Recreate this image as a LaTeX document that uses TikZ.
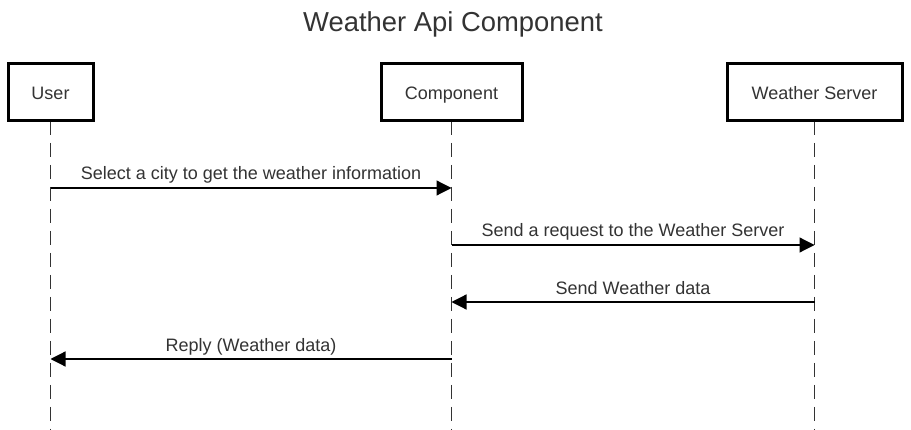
\documentclass[tikz,border=0pt]{standalone}
\usepackage{fontspec}
\setmainfont{Liberation Sans}
\usetikzlibrary{arrows.meta}
\definecolor{txt}{HTML}{333333}
\definecolor{lifel}{HTML}{333333}
\tikzset{
  actor/.style={draw=black, line width=3pt, fill=white, minimum height=57pt, inner sep=0pt,
    text height=15pt, text depth=0pt, text=txt, font=\fontsize{18}{22}\selectfont},
  lifeline/.style={draw=lifel, line width=1.9pt, dash pattern=on 14pt off 8pt},
  msg/.style={draw=txt, line width=1.2pt, -{Triangle[length=15pt,width=15pt]}, black},
  msglabel/.style={anchor=base, text=txt, font=\fontsize{18}{22}\selectfont, inner sep=0pt},
}
\begin{document}
\begin{tikzpicture}[x=1pt,y=-1pt]
\useasboundingbox (0,0) rectangle (911,430);
\fill[white] (0,0) rectangle (911,430);
\node[anchor=base, text=txt, font=\fontsize{27.4}{32}\selectfont, inner sep=0pt] (title) at (453,31.5) {Weather Api Component};
% lifelines (drawn first)
\coordinate (ubot) at (50.5,430);
\coordinate (cbot) at (451.5,430);
\coordinate (wbot) at (814.5,430);
\coordinate (utop) at (50.5,121);
\coordinate (ctop) at (451.5,121);
\coordinate (wtop) at (814.5,121);
\draw[lifeline] (utop) -- (ubot);
\draw[lifeline] (ctop) -- (cbot);
\draw[lifeline] (wtop) -- (wbot);
% actors
\node[actor, minimum width=85pt] (user) at (50.5,92.5) {User};
\node[actor, minimum width=141pt] (comp) at (451.5,92.5) {Component};
\node[actor, minimum width=175pt] (wserv) at (814.5,92.5) {Weather Server};
% message anchor points on lifelines
\coordinate (u1) at (50.5,188);
\coordinate (c1) at (451.5,188);
\coordinate (c2) at (451.5,245);
\coordinate (w2) at (814.5,245);
\coordinate (w3) at (814.5,302);
\coordinate (c3) at (451.5,302);
\coordinate (c4) at (451.5,359);
\coordinate (u4) at (50.5,359);
\draw[msg] (u1) -- (c1);
\draw[msg] (c2) -- (w2);
\draw[msg] (w3) -- (c3);
\draw[msg] (c4) -- (u4);
\node[msglabel] (l1) at (251,180) {Select a city to get the weather information};
\node[msglabel] (l2) at (633,237) {Send a request to the Weather Server};
\node[msglabel] (l3) at (633,295) {Send Weather data};
\node[msglabel] (l4) at (251,352) {Reply (Weather data)};
\end{tikzpicture}
\end{document}
